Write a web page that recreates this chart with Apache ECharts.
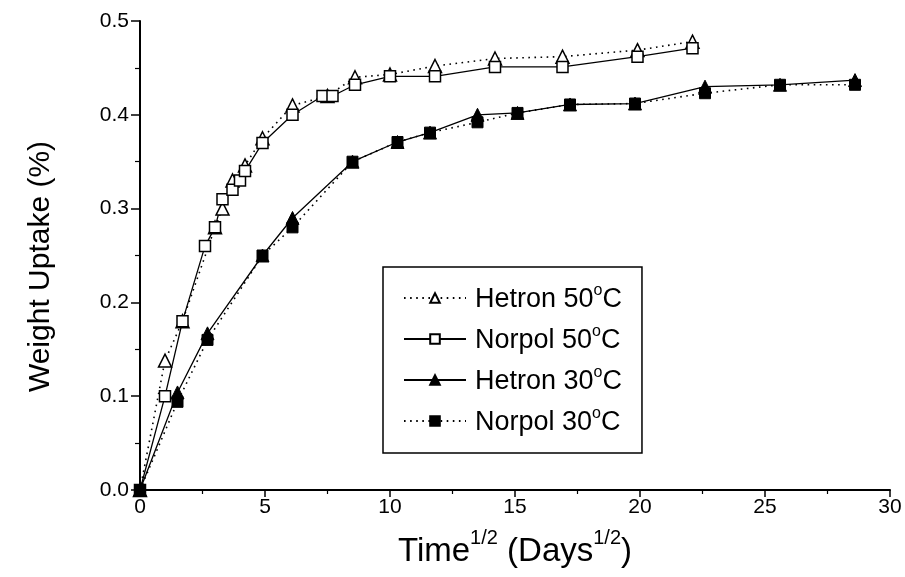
<!DOCTYPE html>
<html>
<head>
<meta charset="utf-8">
<script src="https://cdn.jsdelivr.net/npm/echarts@6/dist/echarts.min.js"></script>
<style>
html,body{margin:0;padding:0;background:#fff;}
#chart{width:905px;height:577px;}
</style>
</head>
<body>
<div id="chart"></div>
<script>
// Data (x = Time^1/2, y = Weight uptake %)
const hetron50 = [[0,0],[1.0,0.138],[1.7,0.18],[3.0,0.28],[3.3,0.30],[3.7,0.33],[4.2,0.346],[4.9,0.375],[6.1,0.41],[7.5,0.42],[8.6,0.44],[10.0,0.443],[11.8,0.452],[14.2,0.46],[16.9,0.462],[19.9,0.469],[22.1,0.478]];
const norpol50 = [[0,0],[1.0,0.10],[1.7,0.18],[2.6,0.26],[3.0,0.28],[3.3,0.31],[3.7,0.32],[4.0,0.33],[4.2,0.34],[4.9,0.37],[6.1,0.40],[7.3,0.42],[7.7,0.42],[8.6,0.432],[10.0,0.441],[11.8,0.441],[14.2,0.451],[16.9,0.451],[19.9,0.462],[22.1,0.471]];
const hetron30 = [[0,0],[1.5,0.104],[2.7,0.167],[4.9,0.25],[6.1,0.29],[8.5,0.35],[10.3,0.371],[11.6,0.381],[13.5,0.40],[15.1,0.402],[17.2,0.411],[19.8,0.412],[22.6,0.43],[25.6,0.432],[28.6,0.437]];
const norpol30 = [[0,0],[1.5,0.094],[2.7,0.16],[4.9,0.25],[6.1,0.28],[8.5,0.35],[10.3,0.371],[11.6,0.381],[13.5,0.392],[15.1,0.402],[17.2,0.411],[19.8,0.412],[22.6,0.423],[25.6,0.432],[28.6,0.432]];
const seriesNames = ['Hetron 50', 'Norpol 50', 'Hetron 30', 'Norpol 30'];
const xTicks = [0, 5, 10, 15, 20, 25, 30];
const yTicks = [0.0, 0.1, 0.2, 0.3, 0.4, 0.5];

const FONT = 'Liberation Sans, Arial, sans-serif';
const chart = echarts.init(document.getElementById('chart'), null, {renderer: 'canvas'});

const dotted = {color: '#000', width: 1.6, type: [1.6, 4.5]};
const solid = {color: '#000', width: 1.3, type: 'solid'};

function mk(name, data, symbol, filled, line, size) {
  return {
    name: name,
    type: 'line',
    data: data,
    symbol: symbol,
    symbolSize: size,
    showSymbol: true,
    animation: false,
    lineStyle: line,
    itemStyle: filled ? {color: '#000', borderColor: '#000', borderWidth: 1}
                      : {color: '#fff', borderColor: '#000', borderWidth: 1.5},
    emphasis: {disabled: true}
  };
}

chart.setOption({
  backgroundColor: '#fff',
  animation: false,
  grid: {left: 140, right: 15, top: 21, bottom: 87, containLabel: false},
  xAxis: {
    type: 'value', min: 0, max: 30, interval: 5,
    axisLine: {show: true, lineStyle: {color: '#000', width: 2}},
    axisTick: {show: true, inside: false, length: 7, lineStyle: {color: '#000', width: 1.5}},
    minorTick: {show: true, splitNumber: 2, length: 4, lineStyle: {color: '#000', width: 1.2}},
    splitLine: {show: false},
    axisLabel: {color: '#000', fontFamily: FONT, fontSize: 21, margin: 7,
      formatter: v => xTicks.includes(v) ? String(v) : ''},
    name: '{a|Time}{s|1/2}{a| (Days}{s|1/2}{a|)}',
    nameLocation: 'middle', nameGap: 38,
    nameTextStyle: {
      color: '#000', fontFamily: FONT,
      rich: {
        a: {fontSize: 33, fontFamily: FONT, color: '#000', lineHeight: 40, verticalAlign: 'bottom'},
        s: {fontSize: 20, fontFamily: FONT, color: '#000', lineHeight: 20, verticalAlign: 'top'}
      }
    }
  },
  yAxis: {
    type: 'value', min: 0, max: 0.5, interval: 0.1,
    axisLine: {show: true, lineStyle: {color: '#000', width: 2}},
    axisTick: {show: true, inside: false, length: 9, lineStyle: {color: '#000', width: 1.5}},
    minorTick: {show: true, splitNumber: 2, length: 5, lineStyle: {color: '#000', width: 1.2}},
    splitLine: {show: false},
    axisLabel: {color: '#000', fontFamily: FONT, fontSize: 21, margin: 11,
      formatter: v => { const t = yTicks.find(k => Math.abs(k - v) < 1e-9); return t === undefined ? '' : t.toFixed(1); }},
    name: 'Weight Uptake (%)',
    nameLocation: 'middle', nameGap: 84, nameRotate: 90,
    nameTextStyle: {color: '#000', fontFamily: FONT, fontSize: 30, padding: [0, 22, 0, 0]}
  },
  legend: {
    show: true,
    orient: 'vertical',
    left: 383, top: 267,
    padding: [16, 20, 17, 20],
    itemGap: 11,
    itemWidth: 62, itemHeight: 12,
    borderColor: '#000', borderWidth: 1.5, borderRadius: 0,
    backgroundColor: '#fff',
    data: seriesNames,
    formatter: name => '{a|' + name + '}{s|o}{a|C}',
    textStyle: {
      color: '#000', fontFamily: FONT, fontSize: 27, padding: [0, 0, 0, 4],
      rich: {
        a: {fontSize: 27, fontFamily: FONT, color: '#000', lineHeight: 30, verticalAlign: 'bottom'},
        s: {fontSize: 16, fontFamily: FONT, color: '#000', lineHeight: 18, verticalAlign: 'top'}
      }
    },
    selectedMode: false
  },
  series: [
    mk(seriesNames[0], hetron50, 'triangle', false, dotted, 13),
    mk(seriesNames[1], norpol50, 'rect', false, solid, 11),
    mk(seriesNames[2], hetron30, 'triangle', true, solid, 13),
    mk(seriesNames[3], norpol30, 'rect', true, dotted, 11)
  ]
});
</script>
</body>
</html>
